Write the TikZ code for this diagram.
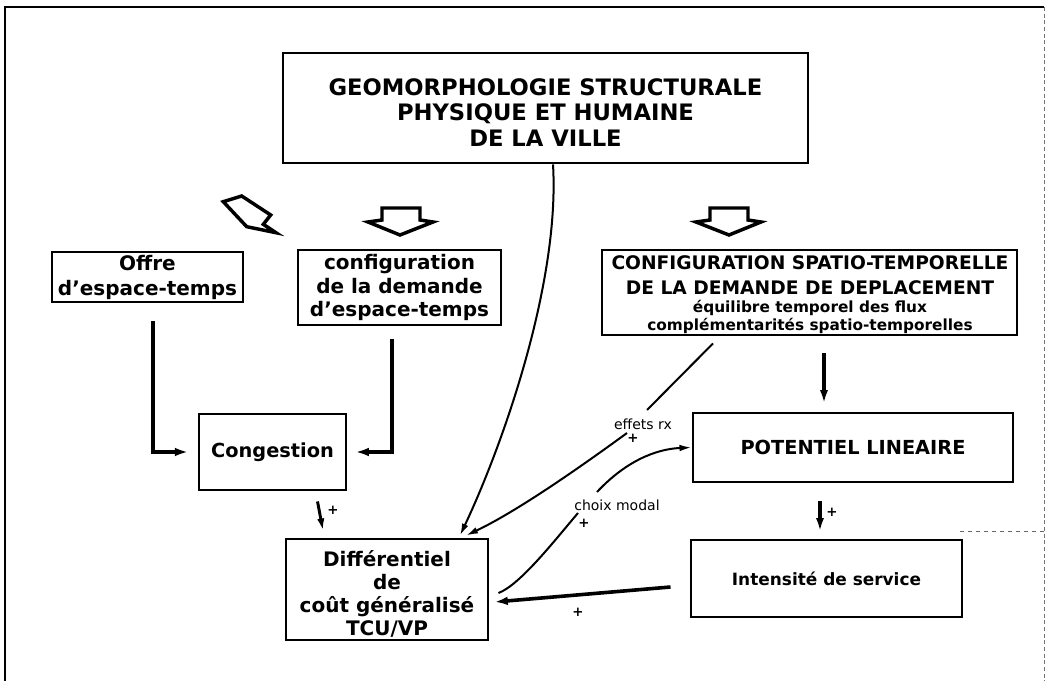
\documentclass[tikz,border=0pt]{standalone}
\usepackage{fontspec}
\setmainfont{DejaVu Sans}
\usetikzlibrary{fit,calc,arrows.meta}
\begin{document}
\begin{tikzpicture}[x=0.75pt,y=-0.75pt,
  box/.style={draw, line width=2.2pt, inner sep=0pt},
  txt/.style={inner sep=0pt, align=center, font=\bfseries},
  conn/.style={line width=1.5pt, -{Latex[length=9pt,width=5pt]}},
  plainline/.style={line width=1.5pt},
  thk/.style={line width=2.7pt, -{Latex[length=10pt,width=6.5pt]}},
  hollow/.style={draw, line width=2.6pt, line join=miter},
  lab/.style={inner sep=0pt, font=\fontsize{10.5}{12}\selectfont},
  plus/.style={inner sep=0pt, font=\bfseries\fontsize{10}{10}\selectfont},
  frame/.style={line width=1.8pt}
]
\useasboundingbox (0,0) rectangle (1050,681);
% outer frame
\draw[frame] (5,681) -- (5,7) -- (1044,7);
\draw[line width=0.6pt, densely dashed, black!55] (1044,7) -- (1044,681);
\draw[line width=0.6pt, dashed, black!60] (960,531) -- (1044,531);

% boxes
\node[box, fit={(283,53) (808,163)}] (top) {};
\node[txt, font=\bfseries\fontsize{17}{19.1}\selectfont] (toptxt) at ($(top.center)+(0,4.5)$)
  {GEOMORPHOLOGIE STRUCTURALE\\PHYSIQUE ET HUMAINE\\DE LA VILLE};

\node[box, fit={(52,252) (243,302)}] (offre) {};
\node[txt, font=\bfseries\fontsize{15}{18.75}\selectfont] (offretxt) at (offre.center)
  {Offre\\d'espace-temps};

\node[box, fit={(298,250) (501,325)}] (conf) {};
\node[txt, font=\bfseries\fontsize{15}{17.6}\selectfont] (conftxt) at (conf.center)
  {configuration\\de la demande\\d'espace-temps};

\node[box, fit={(602,250) (1017,335)}] (cfg) {};
\node[txt, font=\bfseries\fontsize{14}{18.75}\selectfont] (cfgtxtA) at (810,275.5)
  {CONFIGURATION SPATIO-TEMPORELLE\\DE LA DEMANDE DE DEPLACEMENT};
\node[txt, font=\bfseries\fontsize{11.5}{13.5}\selectfont] (cfgtxtB) at (810,317)
  {équilibre temporel des flux\\complémentarités spatio-temporelles};

\node[box, fit={(199,414) (346,490)}] (cong) {};
\node[txt, font=\bfseries\fontsize{14.5}{17}\selectfont] (congtxt) at (cong.center) {Congestion};

\node[box, fit={(693,413) (1013,482)}] (pot) {};
\node[txt, font=\bfseries\fontsize{14.5}{17}\selectfont] (pottxt) at (pot.center) {POTENTIEL LINEAIRE};

\node[box, fit={(691,540) (962,617)}] (int) {};
\node[txt, font=\bfseries\fontsize{12.7}{15}\selectfont] (inttxt) at (int.center) {Intensité de service};

\node[box, fit={(286,539) (488,640)}] (diff) {};
\node[txt, font=\bfseries\fontsize{15}{17.25}\selectfont] (difftxt) at ($(diff.center)+(0,4)$)
  {Différentiel\\de\\coût généralisé\\TCU/VP};

% hollow arrows
\draw[hollow] (382,208) -- (420,208) -- (420,220) -- (433,222) -- (400,235) -- (368,222) -- (382,220) -- cycle;
\draw[hollow] (710,208) -- (748,208) -- (748,220) -- (761,222) -- (729,235) -- (696,222) -- (710,220) -- cycle;
\draw[hollow] (223.3,201.7) -- (241.7,196) -- (270.7,215) -- (263.3,224.3) -- (276,232.7) -- (246.7,226.7) -- cycle;

% connectors
\draw[thk, shorten >=7pt] ($(offre.south)+(5.5,18)$) |- (cong.west);
\draw[thk, shorten >=6pt] ($(conf.south)+(-7.5,13)$) |- (cong.east);
\draw[line width=2.2pt, -{Latex[length=9pt,width=5.5pt]}] ($(cong.south)+(45,10)$) -- ($(diff.north)+(-64,-7)$);
\node[plus] (plus1) at (333,510) {+};

\draw[conn] ($(top.south)+(7.5,0)$) .. controls (560,280) and (505,440) .. ($(diff.north)+(73,-2)$);

\coordinate (e1) at (647,410);
\coordinate (e2) at (627,433);
\draw[plainline] ($(cfg.south)+(-96.5,7)$) -- (e1);
\draw[conn] (e2) .. controls (590,460) and (520,510) .. ($(diff.north)+(79,-2)$);
\node[lab] (effets) at (643,424) {effets rx};
\node[plus] (plus2) at (633,438) {+};

\coordinate (c1) at (578,513);
\coordinate (c2) at (597,492);
\draw[plainline] ($(diff.east)+(9,3.5)$) .. controls (520,585) and (555,540) .. (c1);
\draw[conn] (c2) .. controls (625,462) and (655,449) .. (pot.west);
\node[lab] (choix) at (617,505) {choix modal};
\node[plus] (plus3) at (584,523) {+};

\draw[line width=2.4pt, -{Latex[length=10pt,width=6pt]}] ($(cfg.south)+(14.5,17)$) -- ($(pot.north)+(-29,-8)$);
\draw[line width=2.4pt, -{Latex[length=10pt,width=6pt]}] ($(pot.south)+(-33,18)$) -- ($(int.north)+(-6.5,-7)$);
\node[plus] (plus4) at (832,512) {+};

\draw[thk] ($(int.west)+(-19,8.5)$) -- ($(diff.east)+(5,12.5)$);
\node[plus] (plus5) at (578,612) {+};
\end{tikzpicture}
\end{document}
